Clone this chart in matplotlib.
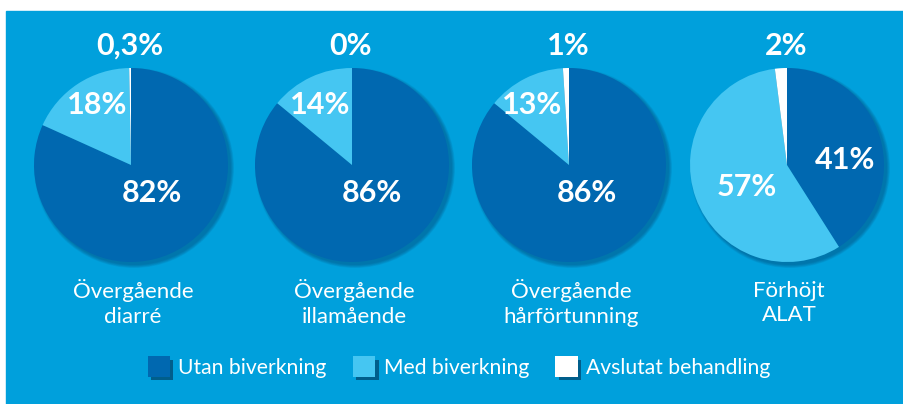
import matplotlib
matplotlib.use("Agg")
import matplotlib.pyplot as plt
import matplotlib.patches as mpatches
import matplotlib.patheffects as pe

# --- data ---
categories = ["Övergående\ndiarré", "Övergående\nillamående",
              "Övergående\nhårförtunning", "Förhöjt\nALAT"]
series = ["Utan biverkning", "Med biverkning", "Avslutat behandling"]
utan = [82, 86, 86, 41]
med = [18, 14, 13, 57]
avslutat = [0.3, 0, 1, 2]
utan_lbl = ["82%", "86%", "86%", "41%"]
med_lbl = ["18%", "14%", "13%", "57%"]
avsl_lbl = ["0,3%", "0%", "1%", "2%"]

# --- styling ---
BG = "#00a0dc"
COLORS = ["#0068b0", "#45c6f2", "#ffffff"]
W, H = 904, 404
CX = [131, 352, 569, 787]
CY = H - 165
R = 97
# label offsets from pie centre (pixels, y up)
UTAN_OFF = [(21, -28), (20, -28), (18, -28), (58, 5)]
MED_OFF = [(-34, 60), (-32, 60), (-37, 60), (-40, -22)]
FAMILY = ["Lato", "DejaVu Sans"]
PCT_FONT = dict(color="white", fontsize=22, fontweight="bold",
                family=FAMILY, ha="center", va="center")
TXT_FONT = dict(color="white", fontsize=16, fontweight="normal", family=FAMILY)

fig = plt.figure(figsize=(W / 100, H / 100), dpi=100, facecolor="white")
ax = fig.add_axes([0, 0, 1, 1])
ax.add_patch(mpatches.Rectangle((6, 0), W - 6, H - 11, color=BG, zorder=0))

for i, cat in enumerate(categories):
    # soft drop shadow
    for k in range(6):
        ax.add_patch(mpatches.Circle((CX[i] + 3, CY - 3), R + 0.6 * k,
                                     color="#003a66", alpha=0.08, lw=0, zorder=1))
    ax.pie([utan[i], med[i], avslutat[i]], colors=COLORS, startangle=90,
           counterclock=False, center=(CX[i], CY), radius=R,
           wedgeprops=dict(linewidth=0, zorder=2))
    ax.text(CX[i] + UTAN_OFF[i][0], CY + UTAN_OFF[i][1], utan_lbl[i], zorder=5, **PCT_FONT)
    ax.text(CX[i] + MED_OFF[i][0], CY + MED_OFF[i][1], med_lbl[i], zorder=5, **PCT_FONT)
    ax.text(CX[i] - 1, H - 46, avsl_lbl[i], zorder=5, **PCT_FONT)
    ax.text(CX[i] + 2, H - 303, cat, ha="center", va="center",
            linespacing=1.3, zorder=5, **TXT_FONT)

ax.set_xlim(0, W)
ax.set_ylim(0, H)
ax.set_aspect("auto")
ax.axis("off")

shadow = [pe.SimplePatchShadow(offset=(2.5, -2.5), shadow_rgbFace="#003355", alpha=0.6),
          pe.Normal()]
handles = [mpatches.Patch(facecolor=c, edgecolor="none", label=s, path_effects=shadow)
           for c, s in zip(COLORS, series)]
fig.legend(handles=handles, loc="center", bbox_to_anchor=(459 / W, 1 - 367 / H),
           ncol=3, frameon=False, handlelength=1.05, handleheight=1.1,
           handletextpad=0.4, columnspacing=1.25,
           prop=dict(family=FAMILY, weight="normal", size=15.2),
           labelcolor="white")

fig.savefig("out.png", dpi=100, facecolor=fig.get_facecolor())
